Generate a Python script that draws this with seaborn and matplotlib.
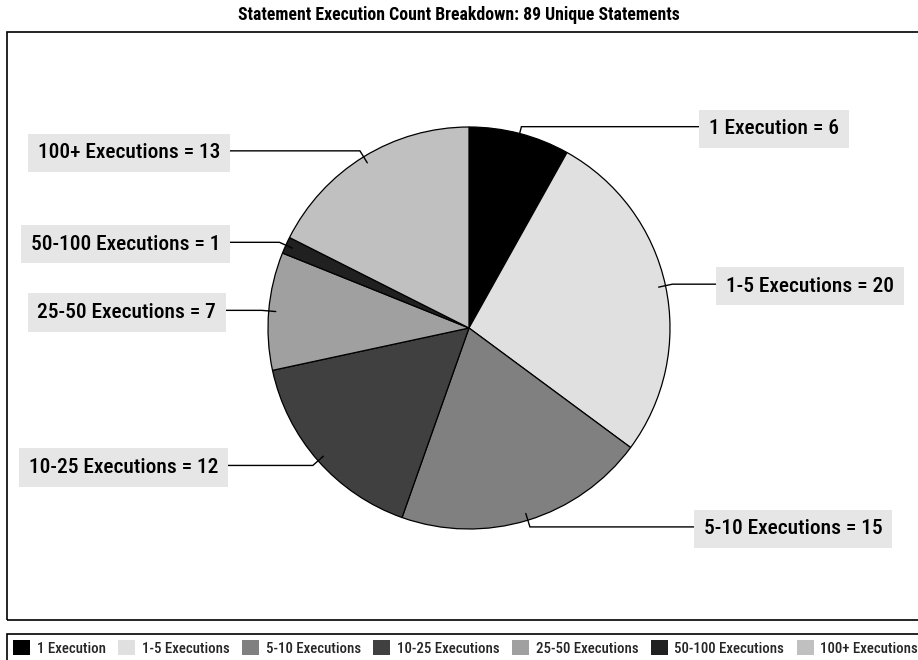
import numpy as np
import matplotlib
matplotlib.use("Agg")
import matplotlib.pyplot as plt
from matplotlib.patches import Rectangle, Patch
from matplotlib.font_manager import fontManager, FontProperties
from matplotlib.textpath import TextPath
import seaborn as sns

# ---- data ----
categories = ["1 Execution", "1-5 Executions", "5-10 Executions", "10-25 Executions",
              "25-50 Executions", "50-100 Executions", "100+ Executions"]
counts = [6, 20, 15, 12, 7, 1, 13]
colors = ["#000000", "#e0e0e0", "#808080", "#404040", "#a0a0a0", "#202020", "#c0c0c0"]
title = "Statement Execution Count Breakdown: 89 Unique Statements"

sns.set_theme(style="white")
plt.rcParams['font.family'] = ['DejaVu Sans']


def _wnum(f):
    w = f.weight
    if isinstance(w, str):
        return {"ultralight": 200, "light": 300, "normal": 400, "regular": 400,
                "book": 400, "medium": 500, "roman": 400, "semibold": 600,
                "demibold": 600, "demi": 600, "bold": 700, "heavy": 800,
                "extra bold": 800, "black": 900}.get(w, 400)
    return w


def find_condensed(weight):
    prefs = ["liberation sans narrow", "arial narrow", "roboto condensed",
             "noto sans", "open sans", "dejavu sans", "lato", "inter"]
    best, best_key = None, None
    for f in fontManager.ttflist:
        n = f.name.lower()
        fn = f.fname.lower().replace("-", "").replace("_", "")
        if "mono" in n or ("serif" in n and "sans" not in n):
            continue
        if "italic" in fn or "oblique" in fn or f.style != "normal":
            continue
        if "semicondensed" in fn or "extracondensed" in fn or "ultracondensed" in fn:
            continue
        cond = ("narrow" in n or "condensed" in n or "narrow" in fn or "condensed" in fn
                or str(f.stretch) in ("condensed", "semi-condensed"))
        if not cond:
            continue
        rank = next((i for i, p in enumerate(prefs) if p in n), 50)
        key = (rank, abs(_wnum(f) - weight))
        if best_key is None or key < best_key:
            best, best_key = f, key
    return best


freg = find_condensed(500)
fbold = find_condensed(700)
fp_reg = FontProperties(fname=freg.fname) if freg else FontProperties(family="DejaVu Sans")
fp_bold = FontProperties(fname=fbold.fname) if fbold else FontProperties(family="DejaVu Sans", weight="bold")


def fit_size(text, fp, target_px):
    p = fp.copy()
    p.set_size(10)
    w = TextPath((0, 0), text, prop=p).get_extents().width  # points at size 10
    return 10 * target_px / (w * 100 / 72)


W, H = 918, 660
fig = plt.figure(figsize=(W / 100, H / 100), dpi=100)
ax = fig.add_axes([0, 0, 1, 1])

cx, cy, R = 469, H - 328, 201
wedges, _ = ax.pie(counts, colors=colors, startangle=90, counterclock=False,
                   center=(cx, cy), radius=R, frame=True,
                   wedgeprops=dict(edgecolor="black", linewidth=0.9))
ax.set_xlim(0, W)
ax.set_ylim(0, H)
ax.axis("off")

lab_size = min(fit_size("100+ Executions = 13", fp_reg, 180), 15.5)
fp_lab = fp_reg.copy()
fp_lab.set_size(lab_size)

# label box edge x positions (layout)
label_edge_x = [701, 718, 696, 226, 224, 228, 228]

for w, cat, n, ex in zip(wedges, categories, counts, label_edge_x):
    mid = np.deg2rad((w.theta1 + w.theta2) / 2)
    dx, dy = np.cos(mid), np.sin(mid)
    x0, y0 = cx + 0.965 * R * dx, cy + 0.965 * R * dy
    x1, y1 = cx + 1.035 * R * dx, cy + 1.035 * R * dy
    ax.plot([x0, x1, ex], [y0, y1, y1], color="black", lw=1.0,
            solid_joinstyle="miter", zorder=5)
    right_side = dx > 0
    pad_px = 8
    tx = ex + pad_px if right_side else ex - pad_px
    ax.text(tx, y1, f"{cat} = {n}", ha="left" if right_side else "right",
            va="center_baseline", fontproperties=fp_lab, color="black", zorder=6,
            bbox=dict(boxstyle="square,pad=0.45", facecolor="#e6e6e6",
                      edgecolor="none"))

# chart frame
ax.add_patch(Rectangle((7, H - 620), 930, 588, fill=False, edgecolor="black",
                       lw=1.2, clip_on=False))
# legend frame
ax.add_patch(Rectangle((7, H - 667), 930, 33, fill=False, edgecolor="black",
                       lw=1.2, clip_on=False))

fp_title = fp_bold.copy()
fp_title.set_size(min(fit_size(title, fp_bold, 440), 14))
fig.text(0.5, 1 - 15 / H, title, ha="center", va="center",
         fontproperties=fp_title, color="black")

leg_size = min(fit_size("5-10 Executions", fp_reg, 94), 12)
fp_leg = fp_reg.copy()
fp_leg.set_size(leg_size)
handles = [Patch(facecolor=c, edgecolor="none") for c in colors]
leg = fig.legend(handles, categories, loc="center left",
                 bbox_to_anchor=(13 / W, 1 - 648 / H), ncol=7, frameon=False,
                 prop=fp_leg, handlelength=1.15, handleheight=1.15,
                 handletextpad=0.45, columnspacing=0.82, borderpad=0,
                 borderaxespad=0)

fig.savefig("out.png", dpi=100, facecolor="white")
